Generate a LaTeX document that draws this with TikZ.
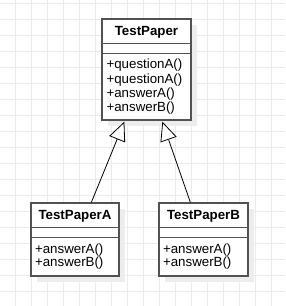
\documentclass[tikz,border=0pt]{standalone}
\usepackage{fontspec}
\setmainfont{Liberation Sans}
\usetikzlibrary{arrows.meta,calc}

\tikzset{
  gridline/.style={draw=black!8, line width=0.8pt},
  classbox/.style={draw=black!68, line width=1.3pt, fill=white, inner sep=0pt},
  classshadow/.style={fill=black!7},
  classname/.style={font=\fontsize{13.3}{15}\selectfont\bfseries, anchor=base, inner sep=0pt},
  member/.style={font=\fontsize{13.3}{15}\selectfont, anchor=base west, inner sep=0pt},
  inherit/.style={draw=black, line width=0.8pt, -{Triangle[fill=white, length=19pt, width=17pt]}},
}

\begin{document}
\begin{tikzpicture}[x=1pt,y=-1pt]
\useasboundingbox (0,0) rectangle (285,306);
% background grid
\foreach \gx in {15,31,...,271} {
  \draw[gridline] (\gx,0) -- (\gx,306);
}
\foreach \gy in {3,19,...,291} {
  \draw[gridline] (0,\gy) -- (285,\gy);
}
% shadows
\fill[classshadow] (108,25) rectangle (197,126);
\fill[classshadow] (37,209) rectangle (125,282);
\fill[classshadow] (165,209) rectangle (254,282);
% class boxes
\node[classbox, minimum width=89pt, minimum height=101pt] (paper) at (146.5,69.5) {};
\node[classbox, minimum width=88pt, minimum height=73pt] (paperA) at (75,239.5) {};
\node[classbox, minimum width=89pt, minimum height=73pt] (paperB) at (203.5,239.5) {};
% compartments
\foreach \c in {paper,paperA,paperB} {
  \draw[classbox] ($(\c.north west)+(0,24.8)$) -- ($(\c.north east)+(0,24.8)$);
  \draw[classbox] ($(\c.north west)+(0,34.8)$) -- ($(\c.north east)+(0,34.8)$);
}
% names
\node[classname] (paperName) at ($(paper.north)+(0,17.5)$) {TestPaper};
\node[classname] (paperAName) at ($(paperA.north)+(0,16.8)$) {TestPaperA};
\node[classname] (paperBName) at ($(paperB.north)+(0,16.8)$) {TestPaperB};
% operations
\foreach \i/\op in {0/questionA(),1/questionA(),2/answerA(),3/answerB()} {
  \node[member] (paperOp\i) at ($(paper.north west)+(5,50.5+14.2*\i)$) {+\op};
}
\foreach \c in {paperA,paperB} {
  \foreach \i/\op in {0/answerA(),1/answerB()} {
    \node[member] (\c Op\i) at ($(\c.north west)+(4.5,50.7+13.8*\i)$) {+\op};
  }
}
% generalization
\draw[inherit] ([xshift=61pt]paperA.north west) -- ([xshift=23pt,yshift=-1pt]paper.south west);
\draw[inherit] ([xshift=32pt]paperB.north west) -- ([xshift=61pt,yshift=-1pt]paper.south west);
\end{tikzpicture}
\end{document}
